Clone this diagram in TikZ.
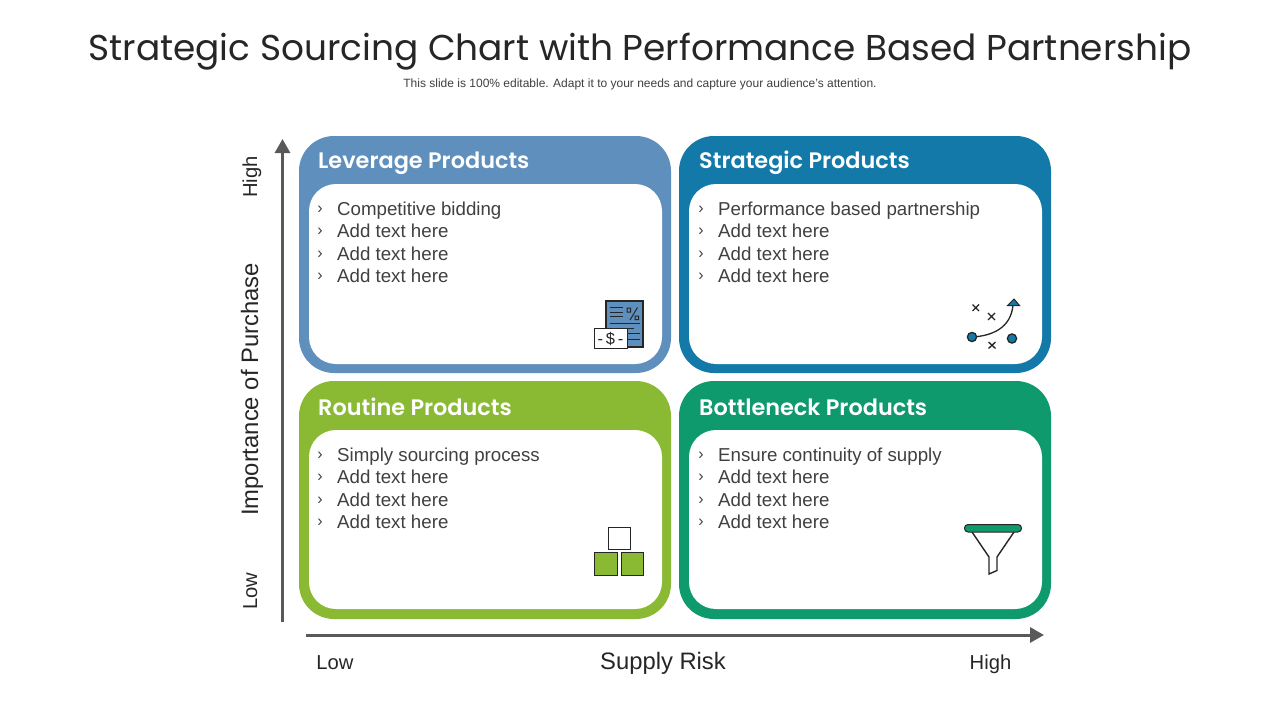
\documentclass[tikz,border=0pt]{standalone}
\usepackage{fontspec}
\setmainfont{Liberation Sans}
\newfontfamily\headfont{Poppins}
\newfontfamily\headsemi{Poppins SemiBold}
\usetikzlibrary{arrows.meta}
\definecolor{txt}{HTML}{404040}
\definecolor{axisc}{HTML}{595959}
\definecolor{iconl}{HTML}{262626}
\definecolor{cblue}{HTML}{5F8FBC}
\definecolor{cteal}{HTML}{1379A9}
\definecolor{cgreen}{HTML}{8AB933}
\definecolor{cemer}{HTML}{0F9A6E}
\tikzset{
 panel/.style={fill=#1,draw=none,rounded corners=35pt},
 inner/.style={fill=white,draw=none,rounded corners=27pt},
 head/.style={anchor=base west,inner sep=0pt,text=white,font=\headsemi\fontsize{22.4}{24}\selectfont},
 item/.style={anchor=base west,text=txt,font=\fontsize{18.7}{22}\selectfont,inner sep=0pt},
 chev/.style={anchor=base,text=txt,font=\fontsize{16}{18}\selectfont,inner sep=0pt},
 axlab/.style={anchor=base,text=black!85,font=\fontsize{23.8}{26}\selectfont,inner sep=0pt},
 ticklab/.style={anchor=base,text=black!85,font=\fontsize{20.2}{24}\selectfont,inner sep=0pt},
 axisline/.style={draw=axisc,line width=3pt,-{Triangle[length=14pt,width=15pt]}},
 ic/.style={draw=iconl,line width=1.3pt},
 icthin/.style={draw=iconl,line width=1pt},
}
\newcommand{\panelitems}[4]{%
 \node[chev] (#1c1) at (#2,#3-2) {›}; \node[item] (#1t1) at (#2+17,#3) {#4};
 \node[chev] (#1c2) at (#2,#3+20.5) {›}; \node[item] (#1t2) at (#2+17,#3+22.5) {Add text here};
 \node[chev] (#1c3) at (#2,#3+43) {›}; \node[item] (#1t3) at (#2+17,#3+45) {Add text here};
 \node[chev] (#1c4) at (#2,#3+65) {›}; \node[item] (#1t4) at (#2+17,#3+67) {Add text here};
}
\begin{document}
\begin{tikzpicture}[x=1pt,y=-1pt]
\useasboundingbox (0,0) rectangle (1280,720);
\fill[white] (0,0) rectangle (1280,720);
\node[text=black!85,font=\headfont\fontsize{35.9}{42}\selectfont,inner sep=0pt] (title) at (640,52) {Strategic Sourcing Chart with Performance Based Partnership};
\node[text=txt,font=\fontsize{12}{14}\selectfont,inner sep=0pt] (sub) at (640,84) {This slide is 100\% editable. Adapt it to your needs and capture your audience's attention.};
% panels
\fill[panel=cblue] (299,136) rectangle (671,373);
\fill[inner] (309,184) rectangle (662,364);
\fill[panel=cteal] (679,136) rectangle (1051,373);
\fill[inner] (689,184) rectangle (1042,364);
\fill[panel=cgreen] (299,381) rectangle (671,619);
\fill[inner] (309,430) rectangle (662,609);
\fill[panel=cemer] (679,381) rectangle (1051,619);
\fill[inner] (689,430) rectangle (1042,609);
\node[head] (h1) at (318,168.5) {Leverage Products};
\node[head] (h2) at (699,168.5) {Strategic Products};
\node[head] (h3) at (318,415.5) {Routine Products};
\node[head] (h4) at (699,415.5) {Bottleneck Products};
\panelitems{a}{320}{215}{Competitive bidding}
\panelitems{b}{701}{215}{Performance based partnership}
\panelitems{c}{320}{461}{Simply sourcing process}
\panelitems{d}{701}{461}{Ensure continuity of supply}
% axes
\coordinate (vs) at (282.5,622); \coordinate (ve) at (282.5,139);
\coordinate (hs) at (306,635); \coordinate (he) at (1044,635);
\draw[axisline] (vs) -- (ve);
\draw[axisline] (hs) -- (he);
\node[axlab,rotate=90] (yl) at (258,389.5) {Importance of Purchase};
\node[ticklab,rotate=90] (yh) at (257,177) {High};
\node[ticklab,rotate=90] (yo) at (257,591) {Low};
\node[axlab] (xl) at (663,669) {Supply Risk};
\node[ticklab] (xo) at (335,669) {Low};
\node[ticklab] (xh) at (990.5,669) {High};
% icon: document + dollar
\draw[ic,fill=cblue] (606,301) rectangle (643,347);
\draw[icthin] (610,307) -- (623,307) (610,312) -- (623,312) (610,316.5) -- (623,316.5) (610,323) -- (640,323) (610,328) -- (634,328) (628,333) -- (640,333) (628,339) -- (640,339);
\draw[icthin] (627,308) rectangle (630.5,312) (635,316) rectangle (638.5,319.5) (637.5,307.5) -- (630,320);
\draw[icthin,fill=white] (594.5,328.5) rectangle (627,348);
\node[text=iconl,font=\fontsize{16.5}{17}\selectfont,inner sep=0pt] (dol) at (610.5,338.5) {-\,\$\,-};
% icon: play
\draw[ic] (972,337) .. controls (992,336) and (1011,328) .. (1013,305);
\draw[ic,fill=cteal] (972,337) circle (4.6);
\draw[ic,fill=cteal] (1012,338.5) circle (4.6);
\draw[icthin,fill=cteal] (1007.5,305.5) -- (1014,299) -- (1019.5,305.5) -- cycle;
\draw[ic] (972.5,304.5) -- (979,311) (979,304.5) -- (972.5,311);
\draw[ic] (988,313) -- (995,320) (995,313) -- (988,320);
\draw[ic] (988.5,342) -- (995.5,348.5) (995.5,342) -- (988.5,348.5);
% icon: boxes
\draw[icthin,fill=white] (608,527) rectangle (630.5,549);
\draw[icthin,fill=cgreen] (594.5,552.5) rectangle (617,575.5);
\draw[icthin,fill=cgreen] (621,552.5) rectangle (643,575.5);
% icon: funnel
\draw[ic,line width=1.4pt] (972,532) -- (989,557) -- (989,574) -- (997,570.5) -- (997,557) -- (1014,532);
\draw[icthin,fill=cemer,rounded corners=3.5pt] (964.5,524.5) rectangle (1021.5,532);
\end{tikzpicture}
\end{document}
